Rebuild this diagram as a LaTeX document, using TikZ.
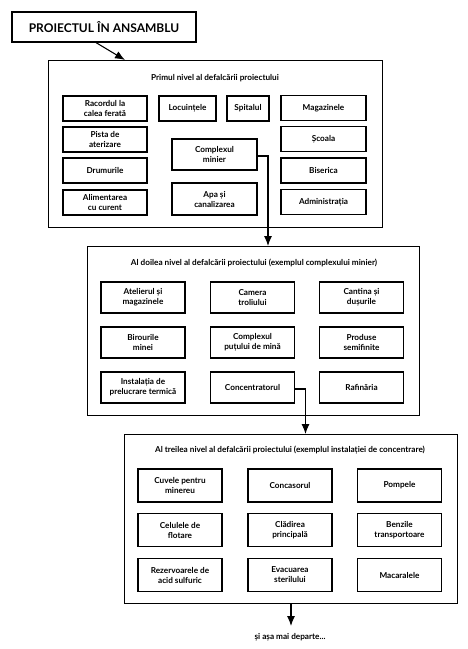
\documentclass[tikz,border=0pt]{standalone}
\usepackage{fontspec}
\setmainfont{Lato}
\usetikzlibrary{arrows.meta,calc}
\begin{document}
\begin{tikzpicture}[x=1pt,y=-1pt,
  box/.style={draw,line width=1.1pt,align=center,inner sep=0pt,outer sep=0pt,
    font=\fontsize{8.2}{10}\selectfont\bfseries},
  frame/.style={draw,line width=0.9pt,inner sep=0pt,outer sep=0pt},
  ttl/.style={font=\fontsize{8.2}{10}\selectfont\bfseries},
  arr/.style={line width=1.1pt,-{Latex[length=10pt,width=8pt]}}]
\useasboundingbox (0,0) rectangle (467,649);
% title
\node[draw,line width=1.1pt,minimum width=184pt,minimum height=30pt,inner sep=0pt,outer sep=0pt,
  font=\fontsize{12}{14}\selectfont\bfseries] (title) at (104,27) {PROIECTUL ÎN ANSAMBLU};
% level 1
\node[frame,minimum width=334pt,minimum height=167pt] (L1) at (215,143.5) {};
\node[ttl] (t1) at (215,78) {Primul nivel al defalcării proiectului};
\begin{scope}[every node/.style={box,minimum height=25pt}]
\node[minimum width=84pt] (rac) at (105,108.5) {Racordul la\\calea ferată};
\node[minimum width=57pt] (loc) at (187.5,108.5) {Locuințele};
\node[minimum width=42pt] (spi) at (248,108.5) {Spitalul};
\node[minimum width=85pt] (mag) at (323.5,108) {Magazinele};
\node[minimum width=84pt] (pis) at (105,139.5) {Pista de\\aterizare};
\node[minimum width=85pt] (sco) at (323.5,139) {Școala};
\node[minimum width=84pt] (dru) at (105,170.5) {Drumurile};
\node[minimum width=85pt] (bis) at (323.5,170.5) {Biserica};
\node[minimum width=84pt] (ali) at (105,202.5) {Alimentarea\\cu curent};
\node[minimum width=85pt] (adm) at (323.5,202) {Administrația};
\node[minimum width=85pt,minimum height=31pt] (min) at (214.5,154.5) {Complexul\\minier};
\node[minimum width=85pt,minimum height=32pt] (apa) at (214.5,199) {Apa și\\canalizarea};
\end{scope}
% level 2
\node[frame,minimum width=332pt,minimum height=169pt] (L2) at (253,330.5) {};
\node[ttl] (t2) at (254,263) {Al doilea nivel al defalcării proiectului (exemplul complexului minier)};
\begin{scope}[every node/.style={box,minimum width=84pt,minimum height=31pt}]
\node (ate) at (143,297.5) {Atelierul și\\magazinele};
\node (cam) at (252.5,297.5) {Camera\\troliului};
\node (can) at (361.5,297.5) {Cantina și\\dușurile};
\node (bir) at (143,342.5) {Birourile\\minei};
\node (put) at (252.5,342.5) {Complexul\\puțului de mină};
\node (pro) at (361.5,342.5) {Produse\\semifinite};
\node (ins) at (143,387.5) {Instalația de\\prelucrare termică};
\node (con) at (252.5,387.5) {Concentratorul};
\node (raf) at (361.5,387.5) {Rafinăria};
\end{scope}
% level 3
\node[frame,minimum width=333pt,minimum height=169pt] (L3) at (290.5,518.5) {};
\node[ttl] (t3) at (290,450) {Al treilea nivel al defalcării proiectului (exemplul instalației de concentrare)};
\begin{scope}[every node/.style={box,minimum width=84pt,minimum height=33pt}]
\node (cuv) at (180,485.5) {Cuvele pentru\\minereu};
\node (cnc) at (290,485.5) {Concasorul};
\node (pom) at (399.5,485.5) {Pompele};
\node (cel) at (180,530) {Celulele de\\flotare};
\node (cla) at (290,530) {Clădirea\\principală};
\node (ben) at (399.5,530) {Benzile\\transportoare};
\node (rez) at (180,575) {Rezervoarele de\\acid sulfuric};
\node (eva) at (290,575) {Evacuarea\\sterilului};
\node (mac) at (399.5,575) {Macaralele};
\end{scope}
\node[ttl] (etc) at (290,637) {și așa mai departe...};
\coordinate (etip) at (291,626);
% connectors
\draw[arr] ([xshift=-9pt]title.south) -- ([xshift=77pt]L1.north west);
\draw[arr] ([yshift=-1.5pt]min.east) -- ++(11,0) coordinate (k1) -- (k1 |- L2.north);
\draw[arr] ([yshift=-1.5pt]con.east) -- ++(11,0) coordinate (k2) -- (k2 |- L3.north);
\draw[arr] (L3.south -| etip) -- (etip);
\end{tikzpicture}
\end{document}
